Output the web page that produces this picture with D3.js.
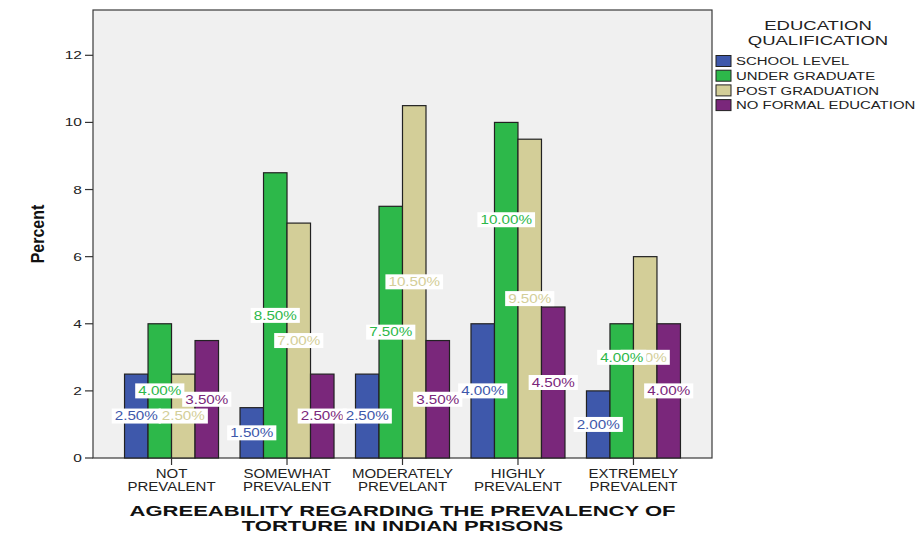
<!DOCTYPE html>
<html>
<head>
<meta charset="utf-8">
<script src="https://cdn.jsdelivr.net/npm/d3@7"></script>
<style>
  html, body { margin: 0; padding: 0; background: #ffffff; }
  svg { display: block; font-family: "Liberation Sans", Arial, sans-serif; }
</style>
</head>
<body>
<svg id="chart" width="920" height="535"></svg>
<script>
// ---- data ----
const categories = ["NOT PREVALENT", "SOMEWHAT PREVALENT", "MODERATELY PREVELANT", "HIGHLY PREVALENT", "EXTREMELY PREVALENT"];
const seriesNames = ["SCHOOL LEVEL", "UNDER GRADUATE", "POST GRADUATION", "NO FORMAL EDUCATION"];
const schoolLevel    = [2.5, 1.5, 2.5, 4.0, 2.0];
const underGraduate  = [4.0, 8.5, 7.5, 10.0, 4.0];
const postGraduation = [2.5, 7.0, 10.5, 9.5, 6.0];
const noFormalEdu    = [3.5, 2.5, 3.5, 4.5, 4.0];
const seriesColors   = ["#3e58ab", "#2db84a", "#d3ce98", "#7a277b"];
const yTicks = [0, 2, 4, 6, 8, 10, 12];
const legendTitle = ["EDUCATION", "QUALIFICATION"];
const xTitle = ["AGREEABILITY REGARDING THE PREVALENCY OF", "TORTURE IN INDIAN PRISONS"];
const yTitle = "Percent";
// label anchors (value units) where the original chart moved a label to avoid overlap
const labelAnchorOverride = { "3|1": 7.1, "4|1": 3.0 };

const seriesValues = [schoolLevel, underGraduate, postGraduation, noFormalEdu];

// ---- layout ----
const svg = d3.select("#chart");
const plot = { left: 93, right: 712, top: 10, bottom: 458 };

const y = d3.scaleLinear().domain([0, 13.35]).range([plot.bottom, plot.top]);
const x = d3.scaleBand().domain(categories).range([plot.left, plot.right]).paddingInner(0).paddingOuter(0.18);
const groupWidth = 94;
const xs = d3.scaleBand().domain(d3.range(seriesNames.length)).range([-groupWidth / 2, groupWidth / 2]);

function stext(parent, tx, ty, str, o) {
  const t = parent.append("text")
    .attr("transform", `translate(${tx},${ty}) scale(${o.sx || 1},1)`)
    .attr("x", 0).attr("y", 0)
    .attr("text-anchor", o.anchor || "start")
    .attr("font-size", o.size)
    .attr("font-weight", o.weight || "normal")
    .attr("fill", o.fill || "#222")
    .text(str);
  return t;
}

// plot background + frame
svg.append("rect")
  .attr("x", plot.left).attr("y", plot.top)
  .attr("width", plot.right - plot.left).attr("height", plot.bottom - plot.top)
  .attr("fill", "#f0f0f0").attr("stroke", "#3a3a3a").attr("stroke-width", 1.2);

// bars
const bars = svg.append("g");
categories.forEach((c, ci) => {
  seriesValues.forEach((vals, si) => {
    const cx = x(c) + x.bandwidth() / 2;
    bars.append("rect")
      .attr("x", cx + xs(si))
      .attr("y", y(vals[ci]))
      .attr("width", xs.bandwidth())
      .attr("height", y(0) - y(vals[ci]))
      .attr("fill", seriesColors[si])
      .attr("stroke", "#222")
      .attr("stroke-width", 1.2);
  });
});

// y axis ticks + labels
const yAxis = svg.append("g");
yTicks.forEach(t => {
  yAxis.append("line")
    .attr("x1", plot.left - 8).attr("x2", plot.left)
    .attr("y1", y(t)).attr("y2", y(t))
    .attr("stroke", "#333").attr("stroke-width", 1.2);
  stext(yAxis, plot.left - 11, y(t) + 4, String(t), { size: 11.5, sx: 1.35, anchor: "end", fill: "#222" });
});

// x axis ticks + labels
const xAxis = svg.append("g");
categories.forEach(c => {
  const cx = x(c) + x.bandwidth() / 2;
  xAxis.append("line")
    .attr("x1", cx).attr("x2", cx)
    .attr("y1", plot.bottom).attr("y2", plot.bottom + 7)
    .attr("stroke", "#333").attr("stroke-width", 1.2);
  const words = c.split(" ");
  words.forEach((w, i) => {
    stext(xAxis, cx, 478 + i * 12.5, w, { size: 12, sx: 1.25, anchor: "middle", fill: "#222" });
  });
});

// axis titles
xTitle.forEach((line, i) => {
  stext(svg, (plot.left + plot.right) / 2, 516 + i * 15, line, { size: 15, sx: 1.47, weight: "bold", anchor: "middle", fill: "#111" });
});
svg.append("text")
  .attr("transform", `translate(44,234) scale(1.15,1) rotate(-90)`)
  .attr("text-anchor", "middle")
  .attr("font-size", 16).attr("font-weight", "bold").attr("fill", "#111")
  .text(yTitle);

// value labels
const labelG = svg.append("g");
const labelItems = [];
categories.forEach((c, ci) => {
  seriesValues.forEach((vals, si) => {
    const key = ci + "|" + si;
    const anchor = labelAnchorOverride[key] !== undefined ? labelAnchorOverride[key] : vals[ci] / 2;
    labelItems.push({ ci, si, v: vals[ci], anchor, moved: labelAnchorOverride[key] !== undefined });
  });
});
labelItems.sort((a, b) => (a.moved === b.moved ? 0 : a.moved ? 1 : -1));
const LSX = 1.27;
labelItems.forEach(d => {
  const cx = x(categories[d.ci]) + x.bandwidth() / 2 + xs(d.si) + xs.bandwidth() / 2;
  const cy = y(d.anchor);
  const g = labelG.append("g");
  const rect = g.append("rect").attr("fill", "#ffffff");
  const t = stext(g, cx, cy + 4.3, d.v.toFixed(2) + "%", { size: 12, sx: LSX, anchor: "middle", fill: seriesColors[d.si] });
  const w = t.node().getComputedTextLength() * LSX + 6;
  rect.attr("x", cx - w / 2).attr("y", cy - 7.5).attr("width", w).attr("height", 15);
});

// legend
const leg = svg.append("g");
legendTitle.forEach((line, i) => {
  stext(leg, 818, 30 + i * 14.5, line, { size: 13.5, sx: 1.37, anchor: "middle", fill: "#222" });
});
seriesNames.forEach((name, i) => {
  const cy = 61 + i * 14.7;
  leg.append("rect")
    .attr("x", 716).attr("y", cy - 5.5)
    .attr("width", 15).attr("height", 11)
    .attr("fill", seriesColors[i]).attr("stroke", "#222").attr("stroke-width", 1);
  stext(leg, 736, cy + 4.2, name, { size: 11.5, sx: 1.3, anchor: "start", fill: "#222" });
});
</script>
</body>
</html>
